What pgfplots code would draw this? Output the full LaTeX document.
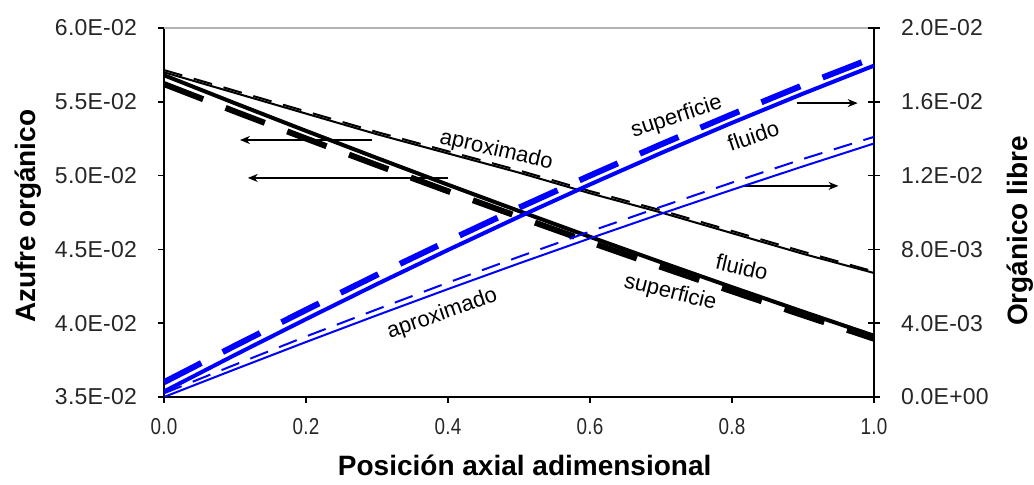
\documentclass[border=0pt]{standalone}
\usepackage{fontspec}
\setmainfont{Liberation Sans}
\newfontfamily\tickfont{Liberation Sans}[LetterSpace=1]
\usepackage{pgfplots}
\pgfplotsset{compat=1.18}
\usetikzlibrary{arrows.meta}

\pgfplotstableread{
x     aprox   aproxd  fluido  superf
0.0   0.05700 0.05715 0.05680 0.05620
0.1   0.05560 0.05575 0.05490 0.05434
0.2   0.05420 0.05435 0.05303 0.05251
0.3   0.05280 0.05295 0.05119 0.05071
0.4   0.05150 0.05165 0.04938 0.04894
0.5   0.05020 0.05035 0.04760 0.04720
0.6   0.04880 0.04895 0.04585 0.04549
0.7   0.04750 0.04765 0.04413 0.04381
0.8   0.04610 0.04625 0.04244 0.04216
0.9   0.04470 0.04485 0.04078 0.04054
1.0   0.04340 0.04350 0.03915 0.03895
}\azufre

\pgfplotstableread{
x     aprox   aproxd  fluido  superf
0.0   0.00000 0.00020 0.00030 0.00080
0.1   0.00150 0.00175 0.00228 0.00278
0.2   0.00298 0.00328 0.00422 0.00472
0.3   0.00443 0.00475 0.00612 0.00662
0.4   0.00585 0.00620 0.00797 0.00846
0.5   0.00724 0.00760 0.00977 0.01026
0.6   0.00860 0.00897 0.01152 0.01200
0.7   0.00993 0.01031 0.01322 0.01369
0.8   0.01123 0.01162 0.01486 0.01532
0.9   0.01250 0.01290 0.01644 0.01690
1.0   0.01374 0.01410 0.01796 0.01840
}\libre

\tikzset{
  thinsolid/.style={line width=1pt},
  thindash/.style={line width=1pt, dash pattern=on 9.5pt off 6pt},
  thicksolid/.style={line width=2pt},
  thickdash/.style={line width=3pt, dash pattern=on 21pt off 12pt},
  lab/.style={font=\fontsize{11}{12}\selectfont, inner sep=0pt},
  arr/.style={-{Stealth[length=5pt,width=4pt]}, line width=0.6pt},
}
\pgfplotsset{
  base/.style={
    width=355pt, height=184.5pt, scale only axis,
    at={(0,0)}, anchor=south west,
    xmin=0, xmax=1,
    scaled ticks=false,
    axis line style={-, line width=1pt},
    tick style={black, line width=0.8pt},
    ticklabel style={font=\tickfont\fontsize{11.5}{13}\selectfont, text=black!85},
    label style={font=\bfseries\fontsize{14}{16}\selectfont},
  },
}

\begin{document}
\begin{tikzpicture}
\useasboundingbox (-82pt,-44pt) rectangle (435pt,198.5pt);
\begin{axis}[base,
  axis x line*=bottom, axis y line*=left,
  tick align=outside, major tick length=3pt,
  ymin=0.035, ymax=0.060,
  ytick={0.035,0.040,0.045,0.050,0.055,0.060},
  yticklabels={3.5E-02,4.0E-02,4.5E-02,5.0E-02,5.5E-02,6.0E-02},
  xtick={0,0.2,0.4,0.6,0.8,1.0},
  xticklabels={0.0,0.2,0.4,0.6,0.8,1.0},
  yticklabel style={xshift=-7pt},
  xticklabel style={yshift=-4pt, xscale=0.82},
  xlabel={Posición axial adimensional},
  ylabel={Azufre orgánico},
  xlabel style={at={(axis description cs:0.508,-0.184)}, anchor=center},
  ylabel style={at={(axis description cs:-0.1915,0.49)}, anchor=center},
]
  \draw[gray!60, line width=1pt] (rel axis cs:0,1) -- (rel axis cs:1,1);
  \draw[arr] (axis cs:0.293,0.05241) -- (axis cs:0.107,0.05241);
  \draw[arr] (axis cs:0.400,0.04984) -- (axis cs:0.118,0.04984);
  \addplot[black, thinsolid] table[x=x, y=aprox] {\azufre};
  \addplot[black, thindash] table[x=x, y=aproxd] {\azufre};
  \addplot[black, thicksolid] table[x=x, y=fluido] {\azufre};
  \addplot[black, thickdash] table[x=x, y=superf] {\azufre};
  \node[lab, rotate=-13] at (axis cs:0.468,0.05170) {aproximado};
  \node[lab, rotate=-13] at (axis cs:0.814,0.04380) {fluido};
  \node[lab, rotate=-14] at (axis cs:0.713,0.04205) {superficie};
  \node[lab, rotate=18] at (axis cs:0.722,0.05395) {superficie};
  \node[lab, rotate=19] at (axis cs:0.830,0.05270) {fluido};
  \node[lab, rotate=19] at (axis cs:0.392,0.04060) {aproximado};
\end{axis}
\begin{axis}[base,
  axis x line=none, axis y line*=right,
  tick align=center, major tick length=6pt,
  ymin=0, ymax=0.02,
  ytick={0,0.004,0.008,0.012,0.016,0.020},
  yticklabels={0.0E+00,4.0E-03,8.0E-03,1.2E-02,1.6E-02,2.0E-02},
  yticklabel style={xshift=7pt},
  ylabel={Orgánico libre},
  ylabel style={at={(axis description cs:1.2056,0.45)}, anchor=center},
]
  \draw[arr] (axis cs:0.891,0.01593) -- (axis cs:0.977,0.01593);
  \draw[arr] (axis cs:0.815,0.01144) -- (axis cs:0.950,0.01144);
  \addplot[blue, thinsolid] table[x=x, y=aprox] {\libre};
  \addplot[blue, thindash] table[x=x, y=aproxd] {\libre};
  \addplot[blue, thicksolid] table[x=x, y=fluido] {\libre};
  \addplot[blue, thickdash] table[x=x, y=superf] {\libre};
\end{axis}
\end{tikzpicture}
\end{document}
